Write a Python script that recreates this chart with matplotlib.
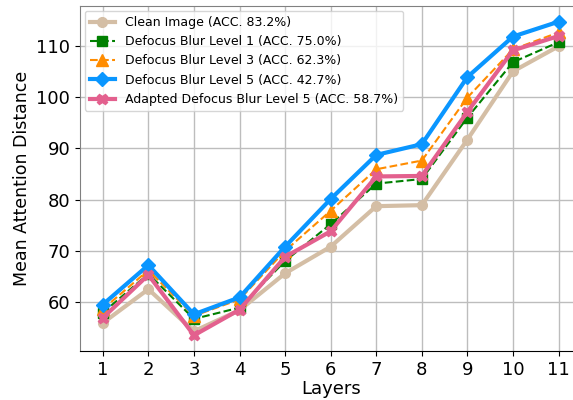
import numpy as np
import matplotlib
matplotlib.use("Agg")
import matplotlib.pyplot as plt

layers = [1, 2, 3, 4, 5, 6, 7, 8, 9, 10, 11]

clean = [55.9, 62.5, 54.3, 58.4, 65.6, 70.8, 78.7, 78.9, 91.7, 105.0, 109.9]
blur1 = [57.9, 65.5, 56.7, 58.9, 68.0, 75.2, 83.1, 84.0, 96.0, 106.8, 110.7]
blur3 = [58.6, 66.2, 57.3, 60.5, 70.0, 77.8, 85.9, 87.6, 99.9, 109.3, 112.6]
blur5 = [59.5, 67.2, 57.6, 60.9, 70.8, 80.1, 88.7, 90.8, 103.9, 111.8, 114.7]
adapted = [56.9, 65.3, 53.5, 58.5, 68.8, 73.8, 84.5, 84.6, 97.1, 109.1, 111.9]

labels = ["Clean Image (ACC. 83.2%)",
          "Defocus Blur Level 1 (ACC. 75.0%)",
          "Defocus Blur Level 3 (ACC. 62.3%)",
          "Defocus Blur Level 5 (ACC. 42.7%)",
          "Adapted Defocus Blur Level 5 (ACC. 58.7%)"]

def main():
    fig = plt.figure(figsize=(5.73, 4.0), dpi=100)
    ax = fig.add_axes([0.1396, 0.1225, 0.875, 0.8625])

    ax.plot(layers, clean, color='#D4BEA5', lw=3, marker='o', ms=7, label=labels[0])
    ax.plot(layers, blur1, color='green', lw=1.5, ls='--', marker='s', ms=7, label=labels[1])
    ax.plot(layers, blur3, color='darkorange', lw=1.5, ls='--', marker='^', ms=8, label=labels[2])
    ax.plot(layers, blur5, color='#0A96FF', lw=3, marker='D', ms=7, label=labels[3])
    ax.plot(layers, adapted, color='#E3608E', lw=3, marker='X', ms=7.5, label=labels[4])

    ax.set_xlim(0.5, 11.5)
    ax.set_xticks(layers)
    ax.set_yticks([60, 70, 80, 90, 100, 110])
    ax.tick_params(labelsize=13)
    ax.set_xlabel('Layers', fontsize=13, labelpad=1)
    ax.set_ylabel('Mean Attention Distance', fontsize=12.5)
    ax.grid(True, color='#bdbdbd', lw=1)
    ax.spines['left'].set_color('gray')
    ax.spines['top'].set_color('gray')
    ax.legend(loc='upper left', fontsize=9, borderaxespad=0.4)

    fig.savefig('out.png', dpi=100)

main()
